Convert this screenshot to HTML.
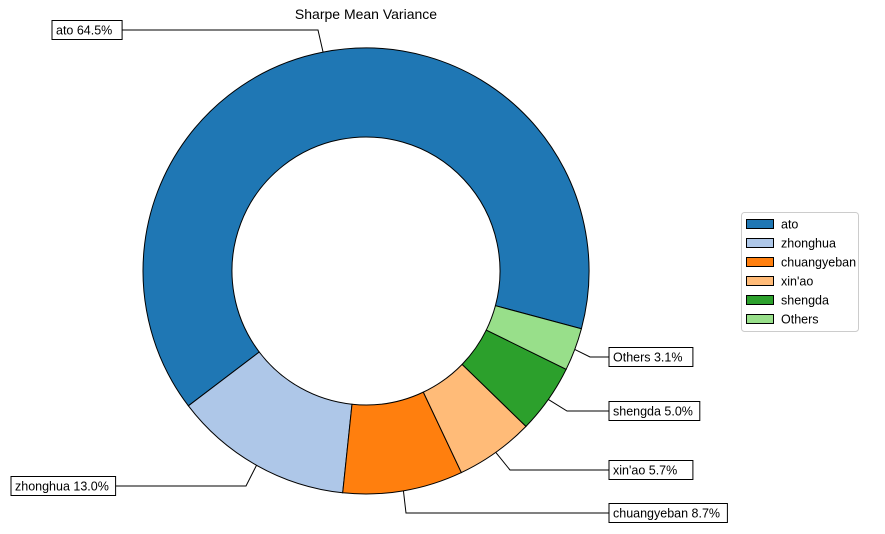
<!DOCTYPE html>
<html><head><meta charset="utf-8"><style>
body{margin:0;background:#fff;}
svg{display:block;font-family:"Liberation Sans","DejaVu Sans",sans-serif;}
</style></head><body>
<svg id="chart" width="885" height="534" viewBox="0 0 885 534" xmlns="http://www.w3.org/2000/svg">
<rect width="885" height="534" fill="#fff"/>
<text x="366" y="19" text-anchor="middle" font-size="14" fill="#000">Sharpe Mean Variance</text>
<g id="slices"></g><g id="labels"></g><g id="legend"></g>
</svg>
<script>
const categories = ["ato","zhonghua","chuangyeban","xin'ao","shengda","Others"];
const values = [64.5,13.0,8.7,5.7,5.0,3.1];
const colors = ["#1f77b4","#aec7e8","#ff7f0e","#ffbb78","#2ca02c","#98df8a"];
// label box layout (not data): box left x, box center y, elbow x
const labelLayout = [
  {bx:52, by:30, ex:318, right:true},
  {bx:11, by:486, ex:246, right:true},
  {bx:609, by:513, ex:406, right:false},
  {bx:609, by:470, ex:510, right:false},
  {bx:609, by:411, ex:567, right:false},
  {bx:609, by:357, ex:590, right:false}
];
const NS="http://www.w3.org/2000/svg";
const cx=366, cy=271, R=223, r=134, start=-15;
const total=values.reduce((a,b)=>a+b,0);
function pt(deg,rad){const a=deg*Math.PI/180;return [cx+rad*Math.cos(a), cy-rad*Math.sin(a)];}
function mk(tag,attrs,parent){const e=document.createElementNS(NS,tag);for(const k in attrs)e.setAttribute(k,attrs[k]);parent.appendChild(e);return e;}
const gS=document.getElementById('slices'), gL=document.getElementById('labels'), gG=document.getElementById('legend');
let ang=start;
values.forEach((v,i)=>{
  const sweep=v/total*360, a0=ang, a1=ang+sweep; ang=a1;
  const [x0,y0]=pt(a0,R),[x1,y1]=pt(a1,R),[x2,y2]=pt(a1,r),[x3,y3]=pt(a0,r);
  const lg=sweep>180?1:0;
  const p=mk('path',{d:`M${x0},${y0} A${R},${R} 0 ${lg} 0 ${x1},${y1} L${x2},${y2} A${r},${r} 0 ${lg} 1 ${x3},${y3} Z`,fill:colors[i],stroke:'#000','stroke-width':1},gS);
  
  
  // label
  const mid=(a0+a1)/2, [mx,my]=pt(mid,R), L=labelLayout[i];
  const txt=categories[i]+' '+v.toFixed(1)+'%';
  const w=txt.length*6.9+8;
  const boxEdge=L.right? L.bx+w : L.bx;
  const ln=mk('polyline',{points:`${mx},${my} ${L.ex},${L.by} ${boxEdge},${L.by}`,fill:'none',stroke:'#000','stroke-width':1},gL);
  
  
  const b=mk('rect',{x:L.bx,y:L.by-9.5,width:w,height:19,fill:'#fff',stroke:'#000','stroke-width':1},gL);
  
  
  const t=mk('text',{x:L.bx+4,y:L.by+4.5,'font-size':12.5,fill:'#000'},gL);
  t.textContent=txt;
  
  
});
const lb=mk('rect',{x:741.5,y:212.5,width:117,height:119,rx:3,fill:'#fff',stroke:'#ccc'},gG);


categories.forEach((c,i)=>{
  const y=224+i*19;
  const s=mk('rect',{x:746.5,y:y-4.5,width:27,height:9,fill:colors[i],stroke:'#000','stroke-width':1},gG);
  
  
  const t=mk('text',{x:781,y:y+4.5,'font-size':12.5,fill:'#000'},gG);
  t.textContent=c;
  
  
});
</script>
</body></html>
